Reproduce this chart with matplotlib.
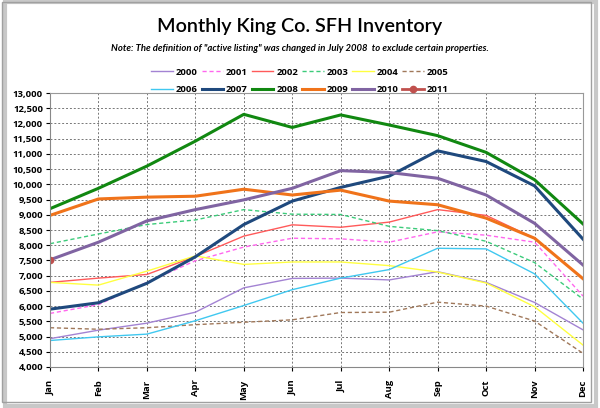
import matplotlib
matplotlib.use('Agg')
import matplotlib.pyplot as plt
from matplotlib.patches import Rectangle

plt.rcParams['font.family'] = ['Open Sans', 'DejaVu Sans']

months = ['Jan', 'Feb', 'Mar', 'Apr', 'May', 'Jun', 'Jul', 'Aug', 'Sep', 'Oct', 'Nov', 'Dec']

y2000 = [4930, 5210, 5440, 5800, 6600, 6910, 6920, 6860, 7130, 6780, 6120, 5220]
y2001 = [5760, 6050, 6780, 7490, 7940, 8230, 8210, 8100, 8440, 8330, 8100, 6330]
y2002 = [6780, 6920, 7040, 7630, 8300, 8670, 8590, 8760, 9170, 8980, 8230, 6900]
y2003 = [8050, 8370, 8680, 8830, 9170, 9020, 9010, 8620, 8480, 8130, 7430, 6230]
y2004 = [6780, 6690, 7150, 7650, 7370, 7450, 7450, 7330, 7120, 6760, 5980, 4720]
y2005 = [5290, 5240, 5290, 5390, 5470, 5550, 5790, 5800, 6130, 6000, 5510, 4450]
y2006 = [4870, 4990, 5080, 5520, 6020, 6540, 6920, 7200, 7900, 7880, 7060, 5440]
y2007 = [5900, 6110, 6750, 7620, 8680, 9450, 9900, 10270, 11100, 10750, 9950, 8200]
y2008 = [9200, 9870, 10600, 11420, 12300, 11870, 12280, 11950, 11600, 11050, 10150, 8700]
y2009 = [8980, 9520, 9580, 9610, 9840, 9650, 9810, 9450, 9330, 8890, 8230, 6900]
y2010 = [7520, 8100, 8800, 9170, 9490, 9870, 10450, 10390, 10200, 9650, 8720, 7350]
y2011 = [7520]

fig = plt.figure(figsize=(6, 4.08), dpi=100)
ax = fig.add_axes([0.0833, 0.1005, 0.8884, 0.6715])

x = list(range(12))
lines = []
# thin series
lines += ax.plot(x, y2000, color='#A383D3', lw=1.0, label='2000')
lines += ax.plot(x, y2001, color='#FF66EE', lw=1.0, ls=(0, (3, 2)), label='2001')
lines += ax.plot(x, y2002, color='#FF5A5A', lw=1.0, label='2002')
lines += ax.plot(x, y2003, color='#3CCB7A', lw=1.0, ls=(0, (3, 2)), label='2003')
lines += ax.plot(x, y2004, color='#FFFF40', lw=1.0, label='2004')
lines += ax.plot(x, y2005, color='#A0785A', lw=1.0, ls=(0, (3, 2)), label='2005')
lines += ax.plot(x, y2006, color='#40C8F0', lw=1.0, label='2006')
# thick series
lines += ax.plot(x, y2007, color='#1F497D', lw=2.2, label='2007')
lines += ax.plot(x, y2008, color='#118811', lw=2.2, label='2008')
lines += ax.plot(x, y2009, color='#F0731A', lw=2.2, label='2009')
lines += ax.plot(x, y2010, color='#8064A2', lw=2.2, label='2010')
lines += ax.plot(x[:len(y2011)], y2011, color='#C0504D', lw=2.0, marker='o', ms=4.5, label='2011')

ax.set_xlim(0, 11)
ax.set_ylim(4000, 13000)
ax.set_yticks(range(4000, 13001, 500))
ax.set_yticklabels([f'{v:,}' for v in range(4000, 13001, 500)], fontsize=6.8, fontweight='bold')
ax.set_xticks(x)
ax.set_xticklabels(months, rotation=90, fontsize=6.8, fontweight='bold')
ax.tick_params(axis='both', length=3, pad=2)
ax.tick_params(axis='x', pad=6)
ax.grid(True, color='#777777', ls=(0, (2, 2)), lw=0.7)
for s in ['top', 'right']:
    ax.spines[s].set_color('#999999')
for s in ['left', 'bottom']:
    ax.spines[s].set_color('#888888')

fig.text(0.5, 0.935, 'Monthly King Co. SFH Inventory', ha='center', va='center',
         fontsize=14.2, family=['Lato', 'DejaVu Sans'], fontweight='semibold')
fig.text(0.5, 0.88, 'Note: The definition of "active listing" was changed in July 2008  to exclude certain properties.',
         ha='center', va='center', fontsize=6.8, style='italic', fontweight='bold',
         family=['Lato', 'DejaVu Sans'])

# legend filled row by row: reorder for matplotlib's column-major fill
order = []
for c in range(6):
    order += [c, c + 6]
fig.legend([lines[i] for i in order], [lines[i].get_label() for i in order],
           loc='center', bbox_to_anchor=(0.5, 0.802), ncol=6, frameon=False,
           prop={'size': 6.8, 'weight': 'bold'}, handlelength=2.3, columnspacing=0.4,
           handletextpad=0.3, labelspacing=0.9)

# outer frame with shadow
fig.patches.append(Rectangle((0.008, 0.005), 0.985, 0.99, transform=fig.transFigure,
                             fill=False, ec='#C8C8C8', lw=3))
fig.patches.append(Rectangle((0.003, 0.015), 0.982, 0.98, transform=fig.transFigure,
                             fill=False, ec='#A0A0A0', lw=1))

fig.savefig('out.png', dpi=100)
